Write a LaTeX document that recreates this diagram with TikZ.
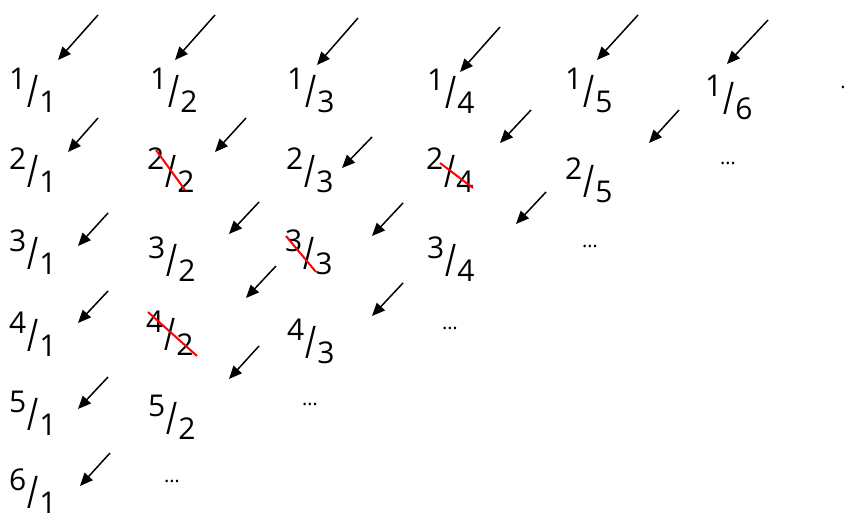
\documentclass[tikz,border=0pt]{standalone}
\usepackage{fontspec}
\setmainfont{Open Sans}
\usepackage{graphicx}
\usetikzlibrary{arrows.meta,positioning,calc}

\newcommand{\slfrac}[2]{\raisebox{23pt}{#1}\kern1pt\raisebox{5pt}{\scalebox{1}[1.5]{/}}\kern1pt#2}

\begin{document}
\begin{tikzpicture}[x=1pt,y=-1pt,
    frac/.style={anchor=base west, inner sep=0pt, font=\fontsize{30}{32}\selectfont},
    dots/.style={inner sep=0pt, font=\fontsize{20}{22}\selectfont},
    arr/.style={-{Triangle[length=13pt,width=11pt]}, line width=1.5pt, black},
    strike/.style={red, line width=2pt}]
        \useasboundingbox (0,0) rectangle (848,514);

        % Fractions
        \foreach \nm/\p/\q/\x/\y in {11/1/1/9/112, 12/1/2/150/112, 13/1/3/287/112, 14/1/4/427/113,
            15/1/5/565/112, 16/1/6/705/119, 21/2/1/9/192, 22/2/2/147/192, 23/2/3/286/192,
            24/2/4/426/192, 25/2/5/565/202, 31/3/1/9/274, 32/3/2/148/281, 33/3/3/285/274,
            34/3/4/427/281, 41/4/1/9/356, 42/4/2/146/355, 43/4/3/287/363, 51/5/1/9/435,
            52/5/2/148/439, 61/6/1/9/513}
            \node[frac] (f\nm) at (\x,\y) {\slfrac{\p}{\q}};

        % Ellipses
        \node[dots] (e26) at (728,163) {…};
        \node[dots] (e35) at (590,246) {…};
        \node[dots] (e44) at (450,328) {…};
        \node[dots] (e53) at (310,404) {…};
        \node[dots] (e62) at (172,481) {…};
        \node[dots] (stop) at (843,87) {.};

        % Arrows
        \foreach \a/\b/\c/\d in {98/15/58/60, 215/15/175/60, 358/18/317/65, 500/27/460/72,
            638/15/597/60, 768/20/727/64, 98/118/68/152, 246/118/215/152, 372/137/342/168,
            531/110/500/143, 679/110/649/143, 108/213/78/246, 259/202/229/234, 403/203/372/236,
            546/192/516/224, 108/291/78/323, 276/266/246/298, 403/283/372/316,
            108/377/78/409, 259/346/229/379, 110/453/80/486}
            \draw[arr] (\a,\b) -- (\c,\d);

        % Struck out
        \draw[strike] (156,150) -- (185,190);
        \draw[strike] (440,163) -- (473,188);
        \draw[strike] (286,236) -- (316,272);
        \draw[strike] (148,312) -- (197,356);
    \end{tikzpicture}
\end{document}
